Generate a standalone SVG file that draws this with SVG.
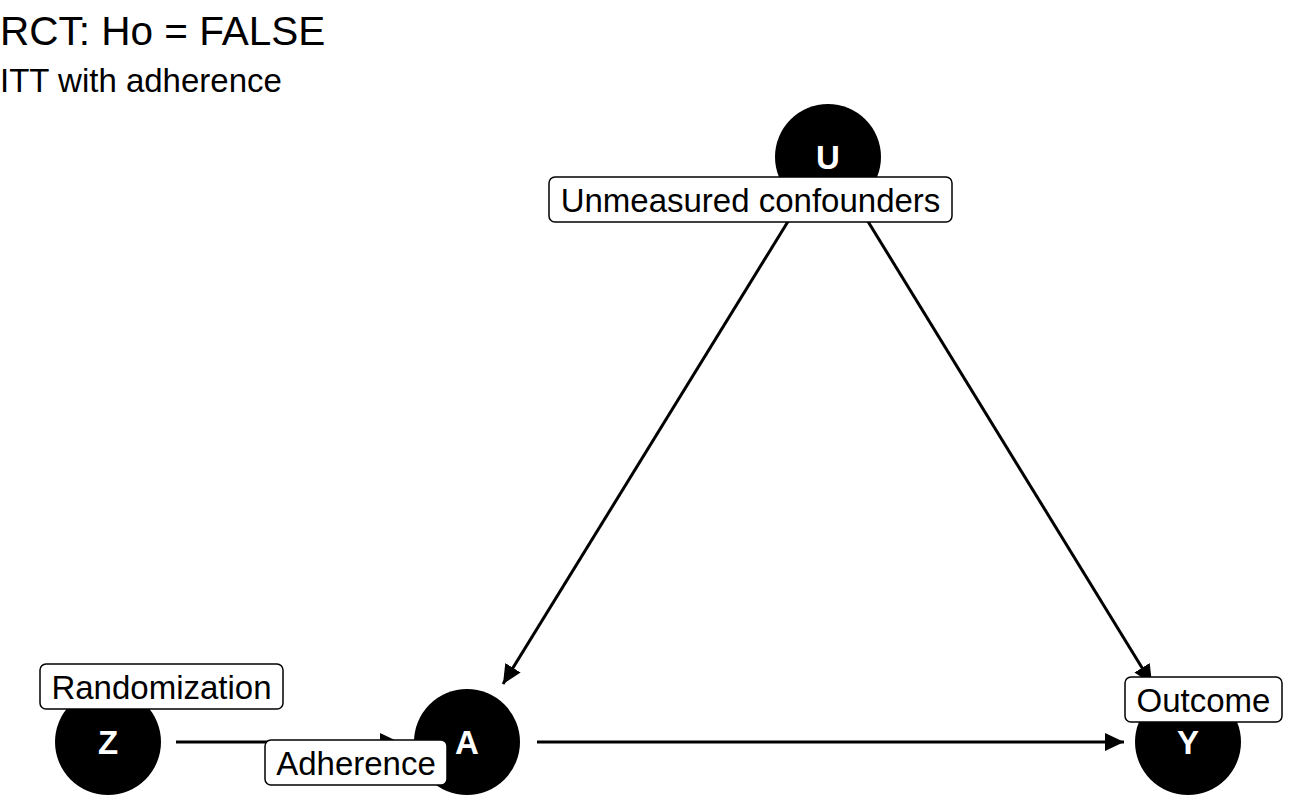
<svg xmlns="http://www.w3.org/2000/svg" width="1296" height="800" viewBox="0 0 1296 800">
<style>
.title{font-family:"Liberation Sans",Arial,sans-serif;font-size:40.5px;fill:#000}
.sub{font-family:"Liberation Sans",Arial,sans-serif;font-size:33px;fill:#000}
.edge{stroke:#000;stroke-width:3;fill:none}
.node{fill:#000}
.letter{font-family:"Liberation Sans",Arial,sans-serif;font-size:33px;font-weight:bold;fill:#fff;text-anchor:middle}
.lbox{fill:#fff;stroke:#000;stroke-width:1.5}
.ltext{font-family:"Liberation Sans",Arial,sans-serif;font-size:33px;fill:#000;text-anchor:middle}
</style>
<defs>
<marker id="arr" markerUnits="userSpaceOnUse" markerWidth="22" markerHeight="20" refX="19" refY="9" orient="auto">
<path d="M0,0 L19,9 L0,18 Z" fill="#000"/>
</marker>
</defs>
<rect width="1296" height="800" fill="#fff"/>
<text class="title" x="0" y="45">RCT: Ho = FALSE</text>
<text class="sub" x="0" y="92">ITT with adherence</text>
<g id="connectors">
<line class="edge" x1="176" y1="742" x2="399" y2="742" marker-end="url(#arr)"/>
<line class="edge" x1="537" y1="742" x2="1124" y2="742" marker-end="url(#arr)"/>
<line class="edge" x1="792" y1="215" x2="503" y2="684" marker-end="url(#arr)"/>
<line class="edge" x1="864" y1="215" x2="1152" y2="684" marker-end="url(#arr)"/>
</g>
<g id="node-U">
<circle class="node" cx="828" cy="157" r="53"/>
<text class="letter" x="828" y="169">U</text>
<rect class="lbox" x="549" y="177" width="403" height="45" rx="6"/>
<text class="ltext" x="750.5" y="212">Unmeasured confounders</text>
</g>
<g id="node-Z">
<circle class="node" cx="108" cy="742" r="53"/>
<text class="letter" x="108" y="754">Z</text>
<rect class="lbox" x="40" y="664" width="243" height="45" rx="6"/>
<text class="ltext" x="161.5" y="699">Randomization</text>
</g>
<g id="node-A">
<circle class="node" cx="467" cy="742" r="53"/>
<text class="letter" x="467" y="754">A</text>
<rect class="lbox" x="265" y="740" width="182" height="45" rx="6"/>
<text class="ltext" x="356" y="775">Adherence</text>
</g>
<g id="node-Y">
<circle class="node" cx="1188" cy="742" r="53"/>
<text class="letter" x="1188" y="754">Y</text>
<rect class="lbox" x="1125" y="677" width="157" height="45" rx="6"/>
<text class="ltext" x="1203.5" y="712">Outcome</text>
</g>
</svg>
